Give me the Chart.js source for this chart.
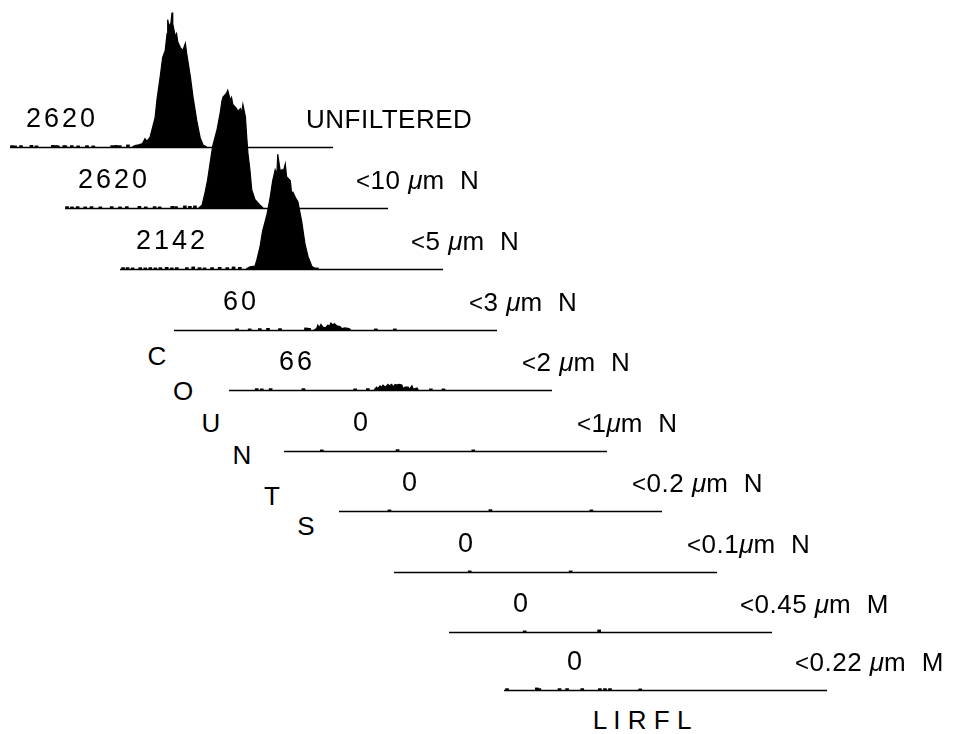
<!DOCTYPE html>
<html>
<head>
<meta charset="utf-8">
<script src="https://cdn.jsdelivr.net/npm/chart.js@4.4.0/dist/chart.umd.min.js"></script>
<style>
  body { margin: 0; background: #fff; }
  #stage { position: relative; width: 957px; height: 734px; overflow: hidden;
           font-family: "Liberation Sans", Arial, sans-serif; color: #000; }
  .panel { position: absolute; }
  .lbl { position: absolute; white-space: pre; }
  .count { font-size: 27px; line-height: 27px; letter-spacing: 3px; transform: translateX(-50%); }
  .filter { font-size: 26px; line-height: 26px; letter-spacing: 0.5px; }
  .axis { font-size: 26px; line-height: 26px; transform: translateX(-50%); }
  .lbl i { font-style: italic; letter-spacing: 0; }
  .lbl .lt { font-size: 24px; }
</style>
</head>
<body>
<div id="stage"></div>
<script>
(function () {
    "use strict";

    // Filter fraction and total counts for each histogram
    const filters = ["UNFILTERED", "<10 μm  N", "<5 μm  N", "<3 μm  N", "<2 μm  N",
                     "<1μm  N", "<0.2 μm  N", "<0.1μm  N", "<0.45 μm  M", "<0.22 μm  M"];
    const counts = [2620, 2620, 2142, 60, 66, 0, 0, 0, 0, 0];

    // Histogram outlines, [channel, counts per channel] (256 LIRFL channels)
    const peakUnfiltered = [[97, 0], [99, 1], [102, 1.5], [105, 2.5], [107, 6], [108.5, 4], [111, 7],
        [113, 14], [115, 21], [116.5, 34], [119, 50], [121, 64], [123, 69], [124.5, 81], [125, 91],
        [126, 86], [127.6, 89], [128.4, 96], [129, 88], [131, 79], [132, 81], [133, 75], [135, 71],
        [137, 69], [139, 74], [140, 67], [143, 50], [145, 36], [148, 19], [150.6, 7], [153, 1.5], [156, 0]];
    const peak10 = [[106, 0], [108.6, 2], [111, 11], [113, 20], [115, 32], [117, 44], [120.5, 56],
        [123, 68], [124.5, 77], [125, 79], [128, 82], [129, 84], [131, 77], [132, 79], [133, 74],
        [136, 71], [137, 69], [139, 71], [140, 68], [141, 74], [143, 65], [144, 51], [145, 39],
        [146.6, 27], [148, 13], [150.6, 6], [154.6, 2], [157, 0]];
    const peak5 = [[100, 0], [103, 1.5], [107, 2], [108.6, 7], [111, 16], [113, 27], [116.5, 39],
        [119, 51], [121, 63], [123, 71], [124.4, 68], [125, 82], [127, 70], [128.4, 71], [129, 68],
        [131, 75], [132, 66], [135, 63], [136, 54], [137, 55], [139, 51], [141, 48], [144, 34],
        [146.6, 18], [149, 9], [152, 2], [154.6, 0]];
    const peak3 = [[111, 0], [113, 1], [114, 3.5], [115, 1.5], [116.5, 4], [118, 2], [120, 1.5],
        [122, 3.5], [123, 2.5], [124.4, 5], [126, 3.5], [127, 4.5], [129, 3], [131.6, 2.5], [133, 1],
        [135.5, 1.5], [138.7, 1], [140, 0]];
    const peak2 = [[115, 0], [117, 2], [118, 1], [119.7, 3], [121, 2], [122, 3.5], [124, 2], [126, 4],
        [127, 3], [129, 4], [130, 2], [131.6, 4], [133, 3.5], [134.7, 4], [137, 3.5], [138, 1],
        [139.5, 2], [142, 2], [143, 0.5], [145, 3], [146, 0.5], [149, 1.5], [150, 0]];
    const peaks = [peakUnfiltered, peak10, peak5, peak3, peak2, [], [], [], [], []];

    // Isolated single-channel events along each baseline
    const events = [
        [[1.6, 1], [4, 0.8], [8.7, 1], [17, 1.2], [21, 0.8], [34, 1.2], [36.5, 1], [38, 0.8], [43, 1],
         [44, 0.8], [49, 1], [54, 0.8], [61, 1], [66, 0.8], [81, 1], [84, 1.2], [87, 1], [93.5, 1.5]],
        [[1.6, 1], [5.5, 0.8], [10, 1], [16, 0.8], [21, 1], [28, 0.8], [37, 1], [43.6, 0.8], [49, 1],
         [59, 1.2], [64, 0.8], [71, 1], [75, 0.8], [85, 1.2], [88, 1], [95, 1.5], [99, 1.2], [103, 1.5]],
        [[2.4, 1], [6, 1], [10, 0.8], [16, 1], [20, 0.8], [24, 1], [28, 0.8], [32, 1], [37, 1.2],
         [41, 0.8], [45, 1], [53, 1], [58, 1.5], [63, 1], [67, 0.8], [73, 1], [79, 1.2], [85, 1],
         [90, 1.5], [95, 1.2], [138, 1], [153, 1], [156, 0.8]],
        [[50, 0.8], [60, 0.8], [68, 1], [74.5, 1.2], [84, 1], [104.6, 1.5], [107, 1.2], [160, 0.8], [175, 0.8]],
        [[22, 1], [26, 0.8], [33, 1], [59, 1], [100, 0.8], [110, 1], [160, 0.8], [170, 0.8]],
        [[30, 0.8], [90, 1], [150, 0.8]],
        [[40, 0.8], [120, 1], [200, 0.8]],
        [[60, 0.8], [140, 0.8]],
        [[119, 1.5], [60, 0.8]],
        [[2.4, 1], [26, 1.5], [28, 1], [44, 1], [50, 1], [62, 1], [76, 1], [80, 1], [84, 1], [108, 0.8]]
    ];

    // Panel placement on the page
    const panelLeft = [10, 65, 120, 174, 229, 284, 339, 394, 449, 504];
    const panelBase = [147, 208, 269, 330, 390, 451, 511, 572, 632, 690];
    const countCenter = [62, 114, 172, 241, 297, 362, 411, 467, 522, 576];
    const filterLeft = [306, 356, 411, 469, 522, 577, 632, 687, 740, 795];
    const panelW = 323, plotH = 140, padTop = 2, padBottom = 3;

    const stage = document.getElementById("stage");

    // Baseline drawn along the zero of each panel's y scale
    const baseline = {
        id: "baseline",
        afterDatasetsDraw(chart) {
            const { ctx, chartArea: a, scales: { y } } = chart;
            const py = Math.round(y.getPixelForValue(0)) + 0.5;
            ctx.save();
            ctx.strokeStyle = "#000";
            ctx.lineWidth = 1.6;
            ctx.beginPath();
            ctx.moveTo(a.left, py);
            ctx.lineTo(a.right, py);
            ctx.stroke();
            ctx.restore();
        },
    };

    // places a text line so that its baseline falls on `bottom`
    const label = (cls, html, left, bottom, size) => {
        const d = document.createElement("div");
        d.className = "lbl " + cls;
        d.innerHTML = html;
        d.style.left = left + "px";
        d.style.top = (bottom - 0.85 * size) + "px";
        stage.appendChild(d);
    };
    const esc = (s) => s.replace(/</g, '<span class="lt">&lt;</span>').replace(/μ/g, "<i>μ</i>");

    filters.forEach((name, i) => {
        const canvas = document.createElement("canvas");
        canvas.className = "panel";
        canvas.width = panelW;
        canvas.height = plotH + padTop + padBottom;
        canvas.style.left = panelLeft[i] + "px";
        canvas.style.top = (panelBase[i] - plotH - padTop) + "px";
        stage.appendChild(canvas);

        new Chart(canvas, {
            type: "bar",
            data: {
                datasets: [
                    {
                        type: "line",
                        data: peaks[i].map(([x, y]) => ({ x, y })),
                        fill: "origin",
                        backgroundColor: "#000",
                        borderColor: "#000",
                        borderWidth: 1.2,
                        pointRadius: 0,
                        tension: 0,
                    },
                    {
                        data: events[i].map(([x, y]) => ({ x, y })),
                        backgroundColor: "#000",
                        barThickness: 3,
                    },
                ],
            },
            options: {
                responsive: false,
                animation: false,
                layout: { padding: { top: padTop, bottom: padBottom, left: 0, right: 0 } },
                scales: {
                    x: { type: "linear", min: 0, max: 256, offset: false, display: false },
                    y: { min: 0, max: 100, display: false },
                },
                plugins: {
                    legend: { display: false },
                    tooltip: { enabled: false },
                },
            },
            plugins: [baseline],
        });

        label("count", String(counts[i]), countCenter[i], panelBase[i] - 19, 27);
        label("filter", esc(name), filterLeft[i], panelBase[i] - 19, 26);
    });

    // Staggered axis titles
    const yTitle = [["C", 157, 365], ["O", 183, 400], ["U", 211, 432], ["N", 242, 464], ["T", 272, 505], ["S", 306, 535]];
    yTitle.forEach(([ch, x, y]) => label("axis", ch, x, y, 26));
    label("axis", "L I R F L", 642, 729, 26);
})();
</script>
</body>
</html>
